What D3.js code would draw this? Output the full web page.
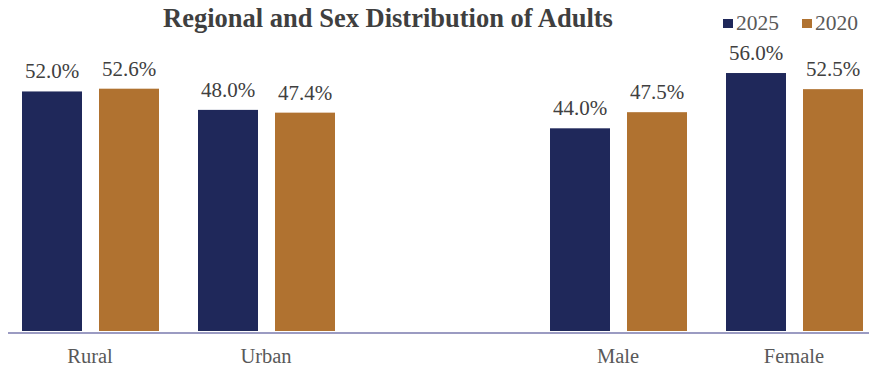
<!DOCTYPE html>
<html>
<head>
<meta charset="utf-8">
<script src="https://cdn.jsdelivr.net/npm/d3@7"></script>
<style>
  body { margin: 0; background: #fff; }
  text { font-family: "Liberation Serif", "Times New Roman", serif; }
</style>
</head>
<body>
<svg id="svg" width="869" height="368"></svg>
<script>
// chart data
const categories = ["Rural", "Urban", "", "Male", "Female"];
const series = ["2025", "2020"];
const values2025 = [52.0, 48.0, null, 44.0, 56.0];
const values2020 = [52.6, 47.4, null, 47.5, 52.5];
const colors = ["#1f285a", "#b07230"];

let svg = d3.select("svg");
let baseline = 331;

let x = d3.scaleBand().domain(categories).range([2, 882]).paddingInner(0);
// two bars of 60px with a 17px gap inside each 176px band
let xInner = d3.scaleBand().domain(series).range([20, 157]).paddingInner(17 / 77);
let y = d3.scaleLinear().domain([0, 60]).range([baseline, baseline - 276.4]);

let rows = categories.map((c, i) => ({
  cat: c,
  vals: [values2025[i], values2020[i]]
}));

// title
svg.append("text")
  .attr("x", 388).attr("y", 27)
  .attr("text-anchor", "middle")
  .attr("font-size", 26.5).attr("font-weight", "bold")
  .attr("fill", "#3f3f3f")
  .text("Regional and Sex Distribution of Adults");

// legend
let legend = svg.append("g");
let legendX = [723, 802];
series.forEach((s, i) => {
  legend.append("rect")
    .attr("x", legendX[i]).attr("y", 19)
    .attr("width", 10).attr("height", 9)
    .attr("fill", colors[i]);
  legend.append("text")
    .attr("x", legendX[i] + 13).attr("y", 30)
    .attr("font-size", 21.5).attr("fill", "#595959")
    .text(s);
});

// bars
let groups = svg.selectAll("g.cat")
  .data(rows.filter(r => r.cat !== ""))
  .enter().append("g")
  .attr("class", "cat")
  .attr("transform", d => "translate(" + x(d.cat) + ",0)");

groups.selectAll("rect")
  .data(d => d.vals.map((v, i) => ({ key: series[i], v, i })))
  .enter().append("rect")
  .attr("x", d => xInner(d.key))
  .attr("width", xInner.bandwidth())
  .attr("y", d => y(d.v))
  .attr("height", d => baseline - y(d.v))
  .attr("fill", d => colors[d.i]);

groups.selectAll("text.val")
  .data(d => d.vals.map((v, i) => ({ key: series[i], v, i })))
  .enter().append("text")
  .attr("class", "val")
  .attr("x", d => xInner(d.key) + xInner.bandwidth() / 2)
  .attr("y", d => y(d.v) - 13)
  .attr("text-anchor", "middle")
  .attr("font-size", 21).attr("fill", "#404040")
  .text(d => d.v.toFixed(1) + "%");

// x axis
let axis = svg.append("g")
  .attr("transform", "translate(0," + (baseline + 2) + ")")
  .call(d3.axisBottom(x).tickSize(0).tickPadding(15));
axis.select(".domain").remove();
axis.append("line")
  .attr("x1", 8).attr("x2", 869)
  .attr("y1", 0).attr("y2", 0)
  .attr("stroke", "#7a7aae").attr("stroke-width", 1.3);
axis.selectAll(".tick text")
  .attr("font-family", "Liberation Serif, serif")
  .attr("font-size", 20.5).attr("fill", "#595959");
</script>
</body>
</html>
